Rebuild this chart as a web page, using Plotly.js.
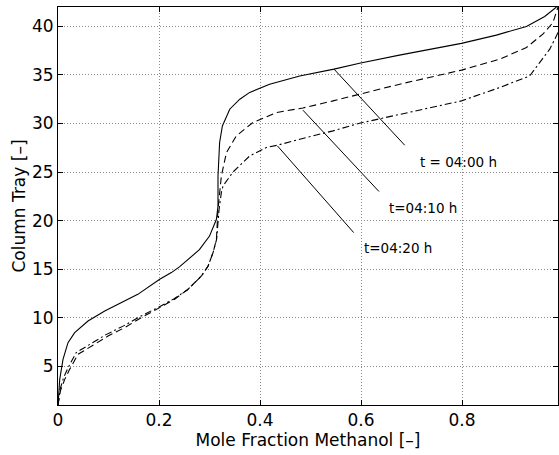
<!DOCTYPE html>
<html>
<head>
<meta charset="utf-8">
<script src="https://cdn.plot.ly/plotly-3.0.1.min.js"></script>
<style>html,body{margin:0;padding:0;background:#fff;}#chart{width:559px;height:455px;}</style>
</head>
<body>
<div id="chart"></div>
<script>
// t = 04:00 h (solid)
const x0400 = [0, 0.0034, 0.0099, 0.0198, 0.033, 0.0594, 0.0925, 0.1255, 0.158, 0.2014, 0.2245, 0.241, 0.257, 0.28, 0.30, 0.3137, 0.3168, 0.3168, 0.32, 0.3255, 0.34, 0.36, 0.3796, 0.419, 0.4786, 0.5465, 0.597, 0.676, 0.7988, 0.868, 0.9275, 0.9637, 0.987];
const y0400 = [1, 3.64, 5.7, 7.42, 8.45, 9.65, 10.68, 11.55, 12.4, 13.95, 14.64, 15.25, 16.0, 17.0, 18.4, 20.13, 21.5, 24.6, 28.04, 29.75, 31.47, 32.5, 33.2, 34.05, 34.9, 35.6, 36.2, 37.04, 38.25, 39.1, 40.0, 41.03, 42];
// t = 04:10 h (dashed)
const x0410 = [0, 0.005, 0.0133, 0.023, 0.0396, 0.066, 0.099, 0.132, 0.165, 0.2014, 0.231, 0.257, 0.284, 0.297, 0.307, 0.3137, 0.3168, 0.3235, 0.3335, 0.353, 0.386, 0.4325, 0.485, 0.5446, 0.597, 0.6766, 0.799, 0.8747, 0.9275, 0.96, 0.98, 0.99];
const y0410 = [1, 2.5, 3.64, 4.67, 6.22, 7.07, 8.1, 8.97, 10.0, 11.03, 11.9, 12.9, 14.29, 15.3, 16.7, 18.07, 21.16, 24.6, 27.0, 28.72, 30.1, 31.13, 31.6, 32.33, 33.0, 34.05, 35.5, 36.63, 37.83, 39.2, 40.4, 42];
// t = 04:20 h (dash-dot)
const x0420 = [0, 0.004, 0.011, 0.02, 0.036, 0.062, 0.095, 0.128, 0.162, 0.2, 0.23, 0.257, 0.284, 0.297, 0.307, 0.314, 0.319, 0.3235, 0.3267, 0.3465, 0.3796, 0.4127, 0.4345, 0.4786, 0.5446, 0.597, 0.6766, 0.799, 0.8747, 0.934, 0.954, 0.9737, 0.987, 0.991];
const y0420 = [1, 2.6, 3.8, 4.85, 6.4, 7.25, 8.25, 9.1, 10.1, 11.1, 11.95, 12.9, 14.29, 15.3, 16.7, 18.07, 21.16, 22.9, 23.57, 25.0, 26.66, 27.53, 27.76, 28.38, 29.24, 30.03, 30.96, 32.33, 33.71, 34.9, 36.29, 37.66, 39.03, 39.5];

// labels: text, pointer start (on curve), pointer end, text position
const labelText = ["t = 04:00 h", "t=04:10 h", "t=04:20 h"];
const pointerFromX = [0.5465, 0.485, 0.4345];
const pointerFromY = [35.6, 31.37, 27.69];
const pointerToX = [0.6865, 0.6356, 0.5855];
const pointerToY = [27.76, 22.99, 18.76];
const labelX = [0.793, 0.723, 0.673];
const labelY = [26.08, 21.34, 17.22];

const xTicks = [0, 0.2, 0.4, 0.6, 0.8];
const yTicks = [5, 10, 15, 20, 25, 30, 35, 40];

const FONT = "DejaVu Sans, Arial, sans-serif";

const traces = [
  {x: x0400, y: y0400, mode: 'lines', line: {color: '#000', width: 1.1, dash: 'solid'}},
  {x: x0410, y: y0410, mode: 'lines', line: {color: '#000', width: 1.1, dash: '7px,4px'}},
  {x: x0420, y: y0420, mode: 'lines', line: {color: '#000', width: 1.1, dash: '7px,3px,2px,3px'}}
];
for (let i = 0; i < labelText.length; i++) {
  traces.push({x: [pointerFromX[i], pointerToX[i]], y: [pointerFromY[i], pointerToY[i]],
    mode: 'lines', line: {color: '#000', width: 1}, hoverinfo: 'skip'});
}

const annotations = labelText.map((t, i) => ({
  x: labelX[i], y: labelY[i], xref: 'x', yref: 'y', text: t, showarrow: false,
  xanchor: 'center', yanchor: 'middle', font: {family: FONT, size: 13.5, color: '#000'}
}));

const axisCommon = {
  showline: true, linecolor: '#000', linewidth: 1, mirror: 'ticks',
  ticks: 'inside', ticklen: 5, tickwidth: 1, tickcolor: '#000',
  showgrid: true, gridcolor: '#8a8a8a', gridwidth: 1, griddash: '1px,2px',
  zeroline: false, tickfont: {family: FONT, size: 17, color: '#000'}
};

const layout = {
  width: 559, height: 455,
  margin: {l: 58, r: 1, t: 7, b: 50},
  paper_bgcolor: '#fff', plot_bgcolor: '#fff',
  showlegend: false,
  xaxis: Object.assign({}, axisCommon, {
    range: [0, 0.99], tickvals: xTicks, ticktext: xTicks.map(v => v === 0 ? '0' : String(v)),
    title: {text: 'Mole Fraction Methanol [–]', font: {family: FONT, size: 17, color: '#000'}, standoff: 4}
  }),
  yaxis: Object.assign({}, axisCommon, {
    range: [1, 42], tickvals: yTicks, ticktext: yTicks.map(String),
    title: {text: 'Column Tray [–]', font: {family: FONT, size: 17, color: '#000'}, standoff: 2}
  }),
  annotations: annotations
};

Plotly.newPlot('chart', traces, layout, {displayModeBar: false, staticPlot: true});
</script>
</body>
</html>
